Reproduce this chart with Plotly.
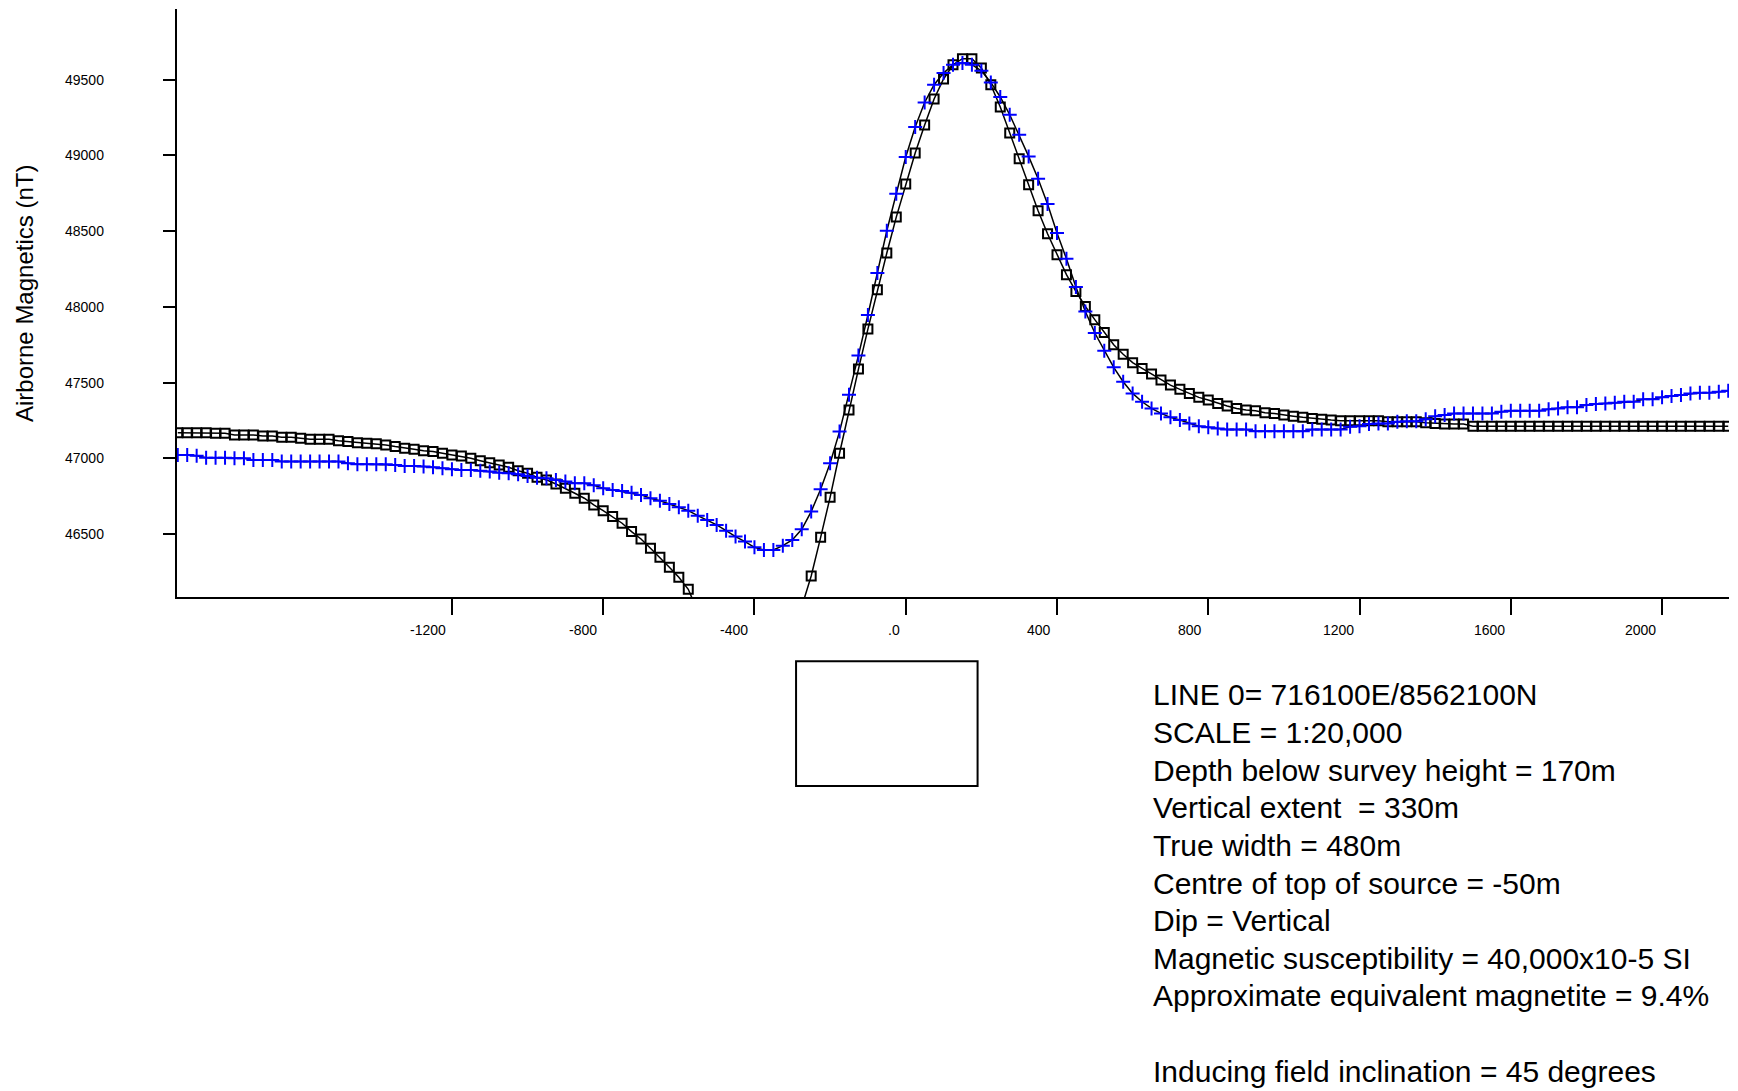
import plotly.graph_objects as go

# ---------------- data ----------------
# survey stations along the line (m), 25 m spacing
stations = list(range(-1925, 2176, 25))

# observed airborne magnetics (nT) - blue crosses
observed = [
    47023, 47023, 47018, 47005, 47005, 47005, 47001, 47001, 46990, 46990,
    46990, 46979, 46979, 46979, 46979, 46979, 46979, 46979, 46968, 46961,
    46961, 46961, 46961, 46957, 46950, 46950, 46946, 46941, 46935, 46928,
    46924, 46924, 46919, 46913, 46906, 46902, 46895, 46884, 46873, 46869,
    46858, 46847, 46836, 46836, 46823, 46803, 46792, 46785, 46774, 46759,
    46737, 46721, 46699, 46677, 46655,
    46622, 46594, 46561, 46523, 46484, 46451, 46413, 46396, 46396, 46424,
    46462, 46532, 46649, 46796, 46968, 47177,
    47420, 47680, 47947, 48224, 48503, 48747, 48990, 49188, 49350, 49467,
    49544, 49599, 49610, 49599, 49559, 49482, 49386, 49269, 49137, 48994,
    48846, 48679, 48488, 48318, 48131, 47970, 47828,
    47710, 47601, 47506, 47429, 47374, 47330, 47297, 47271, 47253, 47231,
    47213, 47205, 47198, 47191, 47191, 47191, 47180, 47180, 47180, 47180,
    47180, 47180, 47191, 47191, 47191, 47191, 47209, 47213, 47227, 47231,
    47231, 47242, 47246, 47246, 47258, 47279, 47286, 47297, 47297, 47297,
    47297, 47297, 47308, 47315, 47315, 47315, 47315, 47324, 47330, 47337,
    47337, 47352, 47359, 47363, 47368, 47374, 47374, 47390, 47390, 47403,
    47412, 47418, 47429, 47434, 47434, 47440, 47446,
]

# calculated model response (nT) - black squares
model = [
    47170, 47170, 47170, 47170, 47166, 47166, 47155, 47155, 47155, 47148,
    47148, 47140, 47140, 47133, 47126, 47126, 47126, 47117, 47111, 47104,
    47100, 47096, 47089, 47078, 47067, 47060, 47051, 47045, 47034, 47023,
    47016, 47001, 46985, 46972, 46957, 46941, 46919, 46902, 46875, 46858,
    46831, 46803, 46770, 46737, 46693, 46655, 46616, 46572, 46517, 46468,
    46407, 46347, 46281, 46215, 46136,
    45990, 45880, 45790, 45720, 45680, 45665, 45675, 45710, 45770, 45850,
    45935, 46020,
    46224, 46479, 46743, 47034, 47320, 47590, 47854, 48114, 48356, 48593,
    48811, 49016, 49201, 49373, 49505, 49599, 49639, 49639, 49577, 49467,
    49320, 49148, 48978, 48807, 48635, 48483, 48345, 48213, 48102, 48003,
    47916, 47832,
    47750, 47688, 47632, 47594, 47557, 47517, 47484, 47456, 47429, 47403,
    47385, 47363, 47346, 47330, 47319, 47315, 47301, 47297, 47286, 47279,
    47271, 47264, 47258, 47253, 47249, 47249, 47249, 47249, 47249, 47242,
    47242, 47242, 47242, 47235, 47231, 47227, 47227, 47227,
    47213, 47213, 47213, 47213, 47213, 47213, 47213, 47213, 47213, 47213,
    47213, 47213, 47213, 47213, 47213, 47213, 47213, 47213, 47213, 47213,
    47213, 47213, 47213, 47213, 47213, 47213, 47213, 47213,
]

x_tick_vals = [-1200, -800, -400, 0, 400, 800, 1200, 1600, 2000]
x_tick_text = ["-1200", "-800", "-400", ".0", "400", "800", "1200", "1600", "2000"]
y_tick_vals = [46500, 47000, 47500, 48000, 48500, 49000, 49500]
y_tick_text = ["46500", "47000", "47500", "48000", "48500", "49000", "49500"]

# modelled source body: horizontal edges (m) and depth below survey height (m)
source_x = [-290, 190]
source_depth = [170, 500]

y_title = "Airborne Magnetics (nT)"
info_lines = [
    "LINE 0= 716100E/8562100N",
    "SCALE = 1:20,000",
    "Depth below survey height = 170m",
    "Vertical extent  = 330m",
    "True width = 480m",
    "Centre of top of source = -50m",
    "Dip = Vertical",
    "Magnetic susceptibility = 40,000x10-5 SI",
    "Approximate equivalent magnetite = 9.4%",
    "",
    "Inducing field inclination = 45 degrees",
]

# ---------------- layout constants ----------------
W, H = 1738, 1091
ML, MR, MT, MB = 177, 9, 9, 11
PW, PH = W - ML - MR, H - MT - MB
AXIS_Y_PX = 597                      # pixel row of the x axis
y_split = (H - MB - AXIS_Y_PX) / PH  # fraction of plot height below axis
px_per_m = PW / (2177 + 1927)
depth_range = (H - MB - AXIS_Y_PX) / px_per_m

FONT = "Liberation Sans, Arial, Helvetica, sans-serif"


def paper_x(px):
    return (px - ML) / PW


def paper_y(py):
    return (H - MB - py) / PH


fig = go.Figure()

fig.add_trace(go.Scatter(
    x=stations, y=model, mode="lines+markers",
    line=dict(color="black", width=1.5),
    marker=dict(symbol="square-open", size=9, color="black",
                line=dict(color="black", width=2)),
    showlegend=False,
))
fig.add_trace(go.Scatter(
    x=stations, y=observed, mode="lines+markers",
    line=dict(color="black", width=1.5),
    marker=dict(symbol="cross-thin", size=10, color="#0000ff",
                line=dict(color="#0000ff", width=2)),
    showlegend=False,
))

fig.add_shape(type="rect", xref="x", yref="y2",
              x0=source_x[0], x1=source_x[1],
              y0=-source_depth[0], y1=-source_depth[1],
              line=dict(color="black", width=2), fillcolor="rgba(0,0,0,0)")

annotations = []
for v, t in zip(x_tick_vals, x_tick_text):
    annotations.append(dict(x=v, xref="x", y=paper_y(630), yref="paper",
                            text=t, showarrow=False, xanchor="right",
                            yanchor="middle", xshift=-4,
                            font=dict(family=FONT, size=14, color="black")))
for v, t in zip(y_tick_vals, y_tick_text):
    annotations.append(dict(x=paper_x(106), xref="paper", y=v, yref="y",
                            text=t, showarrow=False, xanchor="right",
                            yanchor="middle", yshift=0,
                            font=dict(family=FONT, size=14, color="black")))
annotations.append(dict(x=paper_x(24), xref="paper", y=paper_y(294),
                        yref="paper", text=y_title, textangle=-90,
                        showarrow=False, xanchor="center", yanchor="middle",
                        font=dict(family=FONT, size=24, color="black")))
first_line, step = 695, 37.6
for i, line in enumerate(info_lines):
    if not line:
        continue
    annotations.append(dict(x=paper_x(1151), xref="paper",
                            y=paper_y(first_line + i * step), yref="paper",
                            text=line, showarrow=False, xanchor="left",
                            yanchor="middle",
                            font=dict(family=FONT, size=30, color="black")))

fig.update_layout(
    width=W, height=H,
    margin=dict(l=ML, r=MR, t=MT, b=MB, pad=0),
    paper_bgcolor="white", plot_bgcolor="white",
    showlegend=False,
    annotations=annotations,
    xaxis=dict(range=[-1927, 2177], anchor="y", showline=True,
               linecolor="black", linewidth=2, ticks="outside", ticklen=16,
               tickwidth=2, tickcolor="black", tickvals=x_tick_vals,
               showticklabels=False, showgrid=False, zeroline=False),
    yaxis=dict(domain=[y_split, 1], range=[46085, 49967], anchor="x",
               showline=True, linecolor="black", linewidth=2,
               ticks="outside", ticklen=12, tickwidth=2, tickcolor="black",
               tickvals=y_tick_vals, showticklabels=False, showgrid=False,
               zeroline=False),
    yaxis2=dict(domain=[0, y_split], range=[-depth_range, 0], anchor="x",
                visible=False, showgrid=False, zeroline=False),
)

fig.write_html(
    "out.html",
    config={"displayModeBar": False},
    post_script="document.body.style.margin='0';"
                "document.body.style.overflow='hidden';",
)
